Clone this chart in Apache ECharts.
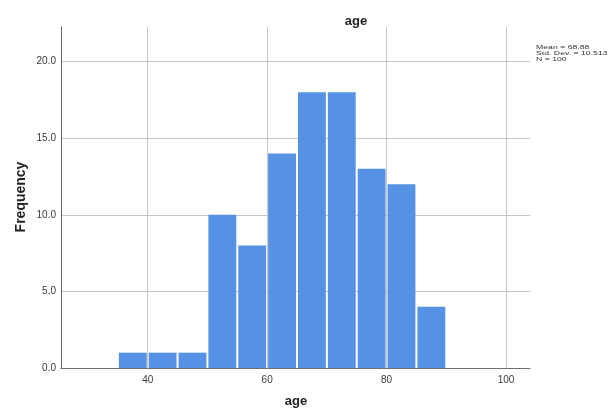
<!DOCTYPE html>
<html>
<head>
<meta charset="utf-8">
<script src="https://cdn.jsdelivr.net/npm/echarts@6/dist/echarts.min.js"></script>
<style>html,body{margin:0;padding:0;background:#fff;}#chart{width:610px;height:408px;}</style>
</head>
<body>
<div id="chart"></div>
<script>
// ---- data ----
const binStarts = [35, 40, 45, 50, 55, 60, 65, 70, 75, 80, 85];
const binEnds   = [40, 45, 50, 55, 60, 65, 70, 75, 80, 85, 90];
const frequency = [1, 1, 1, 10, 8, 14, 18, 18, 13, 12, 4];
const xTicks = [40, 60, 80, 100];
const yTicks = [0, 5, 10, 15, 20];
const statsLines = ['Mean = 68.88', 'Std. Dev. = 10.513', 'N = 100'];
const chartTitle = 'age';
const xName = 'age';
const yName = 'Frequency';

const seriesData = binStarts.map((s, i) => [s, binEnds[i], frequency[i]]);

const chart = echarts.init(document.getElementById('chart'), null, {renderer: 'canvas'});
const font = '"Liberation Sans", Arial, sans-serif';

chart.setOption({
  animation: false,
  backgroundColor: '#ffffff',
  grid: {left: 61, right: 80, top: 27, bottom: 40, containLabel: false},
  xAxis: {
    type: 'value',
    min: 25.48,
    max: 104.02,
    axisLine: {show: true, lineStyle: {color: '#707070', width: 1}},
    axisTick: {show: false, customValues: xTicks},
    axisLabel: {customValues: xTicks, fontSize: 10, color: '#3a3a3a', fontFamily: font, margin: 7},
    splitLine: {show: true, lineStyle: {color: '#c6c6c6', width: 1}}
  },
  yAxis: {
    type: 'value',
    min: 0,
    max: 22.26,
    axisLine: {show: true, lineStyle: {color: '#666666', width: 1}},
    axisTick: {show: false, customValues: yTicks},
    axisLabel: {customValues: yTicks, fontSize: 10, color: '#3a3a3a', fontFamily: font, margin: 5,
      formatter: v => Number(v).toFixed(1)},
    splitLine: {show: true, lineStyle: {color: '#c6c6c6', width: 1}}
  },
  series: [{
    type: 'custom',
    data: seriesData,
    encode: {x: [0, 1], y: 2},
    renderItem: function (params, api) {
      const p0 = api.coord([api.value(0), 0]);
      const p1 = api.coord([api.value(1), api.value(2)]);
      return {
        type: 'rect',
        shape: {x: p0[0] + 1, y: p1[1], width: p1[0] - p0[0] - 2, height: p0[1] - p1[1]},
        style: {fill: '#5592e3'}
      };
    }
  }],
  graphic: [
    {type: 'text', x: 356, y: 21, style: {text: chartTitle, font: 'bold 13px ' + font, fill: '#222', align: 'center', verticalAlign: 'middle'}},
    {type: 'text', x: 296, y: 401, style: {text: xName, font: 'bold 13px ' + font, fill: '#222', align: 'center', verticalAlign: 'middle'}},
    {type: 'text', x: 21, y: 197, rotation: Math.PI / 2, style: {text: yName, font: 'bold 14px ' + font, fill: '#222', align: 'center', verticalAlign: 'middle'}},
    {type: 'text', x: 536, y: 44, scaleY: 0.7, style: {text: statsLines.join('\n'), font: '8.7px ' + font, lineHeight: 8.5, fill: '#333', align: 'left', verticalAlign: 'top'}}
  ]
});
</script>
</body>
</html>
